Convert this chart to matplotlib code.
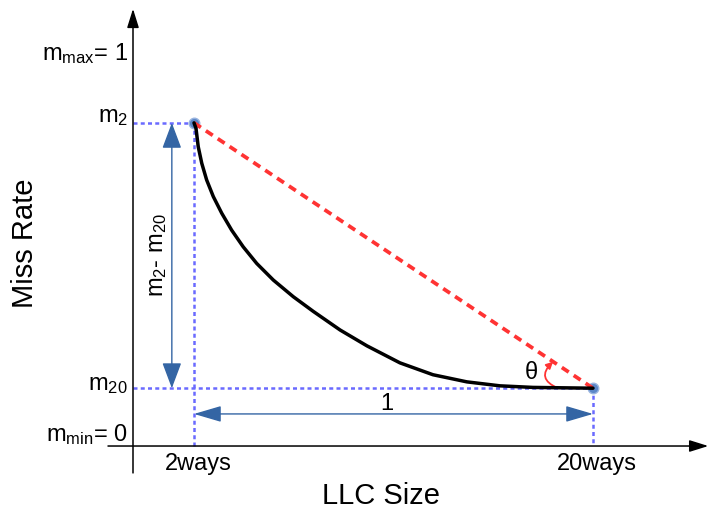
import matplotlib
matplotlib.use('Agg')
import matplotlib.pyplot as plt

plt.rcParams['font.family'] = ['Liberation Sans', 'DejaVu Sans']
plt.rcParams['mathtext.fontset'] = 'custom'
plt.rcParams['mathtext.rm'] = 'Liberation Sans'
plt.rcParams['mathtext.it'] = 'Liberation Sans'

# cache ways and their miss rates
ways = [2, 20]
miss = [0.816, 0.146]   # m2, m20
way_labels = ['2ways', '20ways']

# miss rate curve between the two measured points
curve_x = [2.0, 2.09, 2.19, 2.35, 2.57, 2.87, 3.25, 3.70, 4.22, 4.83, 5.58,
           6.48, 7.38, 8.59, 9.80, 11.29, 12.78, 14.31, 15.80, 17.29, 18.6,
           20.0]
curve_y = [0.816, 0.802, 0.756, 0.714, 0.672, 0.630, 0.588, 0.545, 0.503,
           0.461, 0.419, 0.377, 0.340, 0.293, 0.253, 0.210, 0.180, 0.162,
           0.152, 0.148, 0.147, 0.146]

y_labels = [r'$\mathrm{m}_{\mathrm{max}}$= 1', r'$\mathrm{m}_{2}$',
            r'$\mathrm{m}_{20}$', r'$\mathrm{m}_{\mathrm{min}}$= 0']
y_label_vals = [0.975, 0.818, 0.141, 0.0126]

fig = plt.figure(figsize=(7.09, 5.11), dpi=100)
ax = fig.add_axes([0, 0, 1, 1])
ax.set_xlim(-6.752, 25.233)
ax.set_ylim(-0.1641, 1.1263)
ax.axis('off')

axis_x = -0.752   # where the vertical axis sits

# axes with arrow heads
ax.annotate('', xy=(axis_x, 1.104), xytext=(axis_x, -0.068),
            arrowprops=dict(arrowstyle='-|>,head_length=1.15,head_width=0.36',
                            color='black', lw=1.1, shrinkA=0, shrinkB=0))
ax.annotate('', xy=(25.2, 0), xytext=(-1.88, 0),
            arrowprops=dict(arrowstyle='-|>,head_length=1.15,head_width=0.36',
                            color='black', lw=1.1, shrinkA=0, shrinkB=0))

# guide lines
dot = dict(color='#6a6aff', lw=1.8, dashes=(1.6, 1.3))
ax.plot([axis_x, ways[0]], [miss[0], miss[0]], **dot)
ax.plot([ways[0], ways[0]], [miss[0], 0], **dot)
ax.plot([axis_x, ways[1]], [miss[1], miss[1]], **dot)
ax.plot([ways[1], ways[1]], [miss[1], 0], **dot)

ax.plot(ways, miss, 'o', ms=7.6, mfc='#5b87c8', mec='#9ab5e0', mew=1, zorder=3)
ax.plot(ways, miss, color='#ff3333', lw=2.7, dashes=(2.2, 1.6), zorder=4)
ax.plot(curve_x, curve_y, color='black', lw=2.5, zorder=4,
        solid_capstyle='round', solid_joinstyle='round')

# dimension arrows
blue = '#3465a4'
ax.annotate('', xy=(1.0, miss[0]), xytext=(1.0, miss[1]),
            arrowprops=dict(arrowstyle='<|-|>,head_length=1.6,head_width=0.6',
                            color=blue, lw=1.0, shrinkA=0, shrinkB=0))
ax.annotate('', xy=(ways[0], 0.081), xytext=(ways[1], 0.081),
            arrowprops=dict(arrowstyle='<|-|>,head_length=1.7,head_width=0.5',
                            color=blue, lw=1.0, shrinkA=0, shrinkB=0))
ax.text(0.376, 0.482, r'$\mathrm{m}_{2}$- $\mathrm{m}_{20}$', rotation=90,
        fontsize=17, ha='center', va='center')
ax.text(10.7, 0.106, '1', fontsize=17, ha='center', va='center')

# angle marker
ax.annotate('', xy=(18.2, 0.213), xytext=(18.42, miss[1]),
            arrowprops=dict(arrowstyle='-|>,head_length=0.4,head_width=0.2',
                            color='#ff3333', lw=1.3, shrinkA=0, shrinkB=0,
                            connectionstyle='arc3,rad=-0.75'))
ax.text(17.2, 0.185, 'θ', fontsize=17, ha='center', va='center')

# tick labels and axis titles
for lab, val in zip(y_labels, y_label_vals):
    ax.text(-0.977, val, lab, fontsize=17, ha='right', va='baseline')
for w, lab in zip(ways, way_labels):
    ax.text(w + 0.18, -0.061, lab, fontsize=17, ha='center', va='baseline')
ax.text(10.44, -0.126, 'LLC Size', fontsize=21, ha='center', va='center')
ax.text(-5.62, 0.513, 'Miss Rate', fontsize=21, ha='center', va='center',
        rotation=90)

fig.savefig('out.png', dpi=100)
